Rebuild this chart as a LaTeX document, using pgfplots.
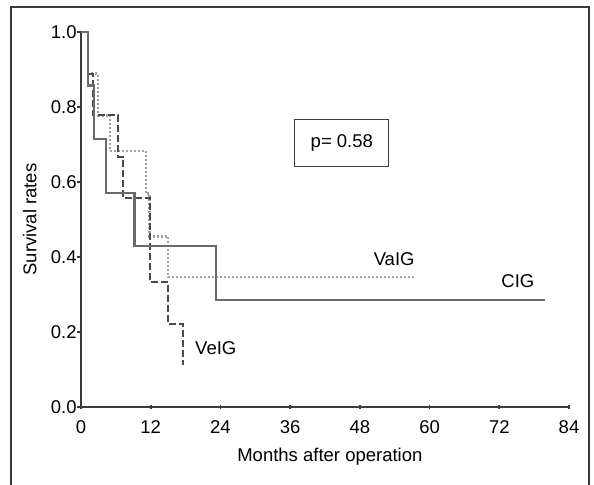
\documentclass[border=0pt]{standalone}
\usepackage{fontspec}
\setmainfont{Liberation Sans}
\usepackage{pgfplots}
\pgfplotsset{compat=1.18}
\definecolor{axgray}{HTML}{3A3A3A}
\definecolor{cigcol}{HTML}{6A6A6A}
\definecolor{veigcol}{HTML}{4A4A4A}
\definecolor{vaigcol}{HTML}{A0A0A0}
\begin{document}
\fontsize{18.5bp}{22bp}\selectfont
\begin{tikzpicture}[x=1bp,y=1bp]
\useasboundingbox (0,0) rectangle (594,485);
\draw[line width=1.3bp, axgray] (11,0) -- (11,478) -- (589,478) -- (589,0);
\begin{axis}[
  at={(81bp,78bp)}, anchor=south west,
  scale only axis, width=488bp, height=375bp,
  xmin=0, xmax=84, ymin=0, ymax=1,
  axis lines=left, axis line style={line width=1.8bp, axgray, -},
  xtick={0,12,...,84}, ytick={0,0.2,...,1.0},
  /pgf/number format/assume math mode=true,
  yticklabel style={/pgf/number format/fixed, /pgf/number format/fixed zerofill, /pgf/number format/precision=1, xshift=6bp},
  xticklabel style={yshift=-5bp},
  ytick style={line width=1.2bp, axgray},
  xtick style={line width=1.6bp, axgray},
  tick align=outside, major tick length=4bp,
  xtick align=center,
  xlabel={Months after operation}, ylabel={Survival rates},
  x label style={at={(axis description cs:0.51,-0.133)}, anchor=center},
  y label style={at={(axis description cs:-0.105,0.5)}, anchor=center, rotate=0},
  clip=false,
]
% VaIG (dotted, light)
\addplot[vaigcol, line width=2.6bp, dash pattern=on 2bp off 2bp] coordinates {
(0,1) (1.2,1) (1.2,0.889) (2.9,0.889) (2.9,0.778) (5.0,0.778) (5.0,0.683)
(11.2,0.683) (11.2,0.569) (11.8,0.569) (11.8,0.455) (15.0,0.455) (15.0,0.347) (57.5,0.347)};
% VeIG (dashed, dark)
\addplot[veigcol, line width=2bp, dash pattern=on 7bp off 3bp] coordinates {
(0,1) (1.2,1) (1.2,0.889) (2.0,0.889) (2.0,0.778) (6.4,0.778) (6.4,0.667)
(7.2,0.667) (7.2,0.556) (11.9,0.556) (11.9,0.333) (15.0,0.333) (15.0,0.222)
(17.6,0.222) (17.6,0.111)};
% CIG (solid)
\addplot[cigcol, line width=2.4bp] coordinates {
(0,1) (1.2,1) (1.2,0.857) (2.2,0.857) (2.2,0.714) (4.3,0.714) (4.3,0.571)
(9.2,0.571) (9.2,0.429) (23.2,0.429) (23.2,0.286) (79.9,0.286)};
\node[draw=axgray, line width=1bp, minimum width=94bp, minimum height=47bp, fill=white] at (axis cs:44.9,0.705) {p= 0.58};
\node at (axis cs:53.9,0.395) {VaIG};
\node at (axis cs:75.2,0.336) {CIG};
\node at (axis cs:23.2,0.157) {VeIG};
\end{axis}
\end{tikzpicture}
\end{document}
